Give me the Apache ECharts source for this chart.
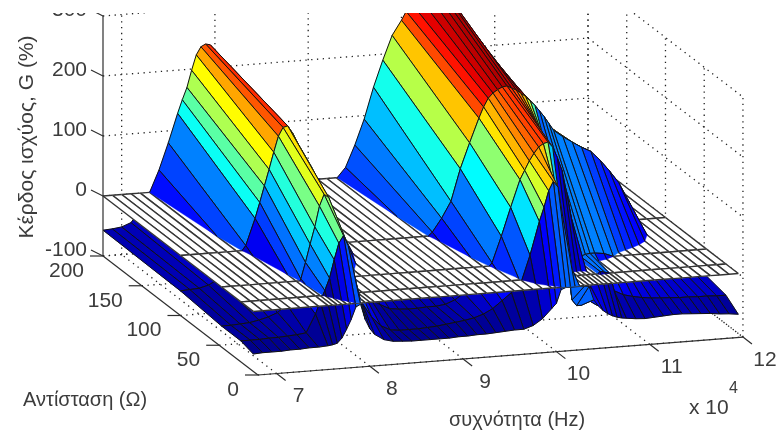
<!DOCTYPE html>
<html>
<head>
<meta charset="utf-8">
<title>Κέρδος ισχύος</title>
<style>
  html, body { margin: 0; padding: 0; background: #fff; }
  #chart { width: 778px; height: 432px; }
</style>
<script src="https://cdn.jsdelivr.net/npm/echarts@6/dist/echarts.min.js"></script>
</head>
<body>
<div id="chart"></div>
<script>
// συχνότητα, x 10^4 Hz
const freq = [
  6.8, 6.9, 7.0, 7.1, 7.2, 7.3, 7.4, 7.5, 7.6,
  7.65, 7.7, 7.75, 7.8, 7.85, 7.9, 7.95, 8.0, 8.05, 8.1,
  8.2, 8.3, 8.4, 8.5, 8.6, 8.7, 8.8, 8.9, 9.0, 9.1, 9.2, 9.3, 9.4, 9.5, 9.6, 9.7, 9.8, 9.9,
  10.0, 10.05, 10.1, 10.15, 10.2, 10.25, 10.3, 10.35, 10.4, 10.45, 10.5, 10.55, 10.6, 10.65, 10.7, 10.75, 10.8,
  10.9, 11.0, 11.1, 11.2, 11.3, 11.4, 11.5, 11.6, 11.7, 11.8, 11.9, 12.0
]
// Αντίσταση, Ω
const resistance = [6, 22, 47, 100, 200]

// Κέρδος (%), one row per resistance
const gain6 = [
  -71, -70, -70, -70, -69, -69, -68, -68, -67,
  -66, -64, -56, -42, -26, -6, -2, -28, -44, -54,
  -64, -68, -69, -70, -70, -70, -70, -70, -69, -69, -68, -68, -67, -66, -65, -65, -60, -50,
  -34, -26, -4, -1, -1, -1, -1, -1, -2, -25, -36, -44, -50, -54, -57, -59, -60,
  -62, -63, -62, -61, -60, -60, -61, -62, -63, -65, -66, -68
]
const gain22 = [
  -65, -65, -65, -64, -64, -63, -62, -60, -30,
  -10, 8, 28, 58, 85, 97, 80, 40, 2, -18,
  -42, -58, -66, -68, -68, -68, -67, -66, -64, -62, -60, -57, -52, -44, -32, -20, -6, 40,
  95, 118, 145, 160, 150, 100, 30, -40, -50, -50, -40, -20, -5, 4, 2, 0, -30,
  -38, -42, -45, -47, -48, -49, -50, -50, -51, -51, -52, -52
]
const gain47 = [
  -65, -65, -64, -63, -60, -56, -50, -38, -14,
  3, 30, 60, 88, 122, 141, 135, 105, 80, 52,
  8, -22, -40, -50, -58, -60, -61, -61, -60, -60, -58, -52, -42, -28, -12, 5, 48, 95,
  140, 155, 170, 182, 192, 197, 199, 190, 172, 150, 112, 70, -3, 4, 7, 8, 8,
  6, 0, -14, -22, -28, -33, -37, -40, -42, -43, -44, -45
]
const gain100 = [
  -59, -58, -57, -53, -45, -30, -12, 8, 52,
  78, 105, 132, 160, 186, 200, 202, 190, 174, 160,
  132, 100, 70, 26, -8, -25, -34, -38, -40, -38, -32, -22, -8, 6, 28, 55, 108, 150,
  190, 208, 222, 230, 235, 239, 240, 236, 232, 226, 220, 212, 204, 194, 184, 172, 160,
  148, 138, 128, 120, 104, 85, 64, 34, 0, -18, -30, -40
]
const gain200 = [
  -57, -56, -54, -48, -28, 0, 36, 80, 128,
  150, 170, 198, 223, 236, 240, 238, 226, 213, 200,
  170, 140, 110, 85, 62, 42, 28, 15, 7, 1, -3, -2, 16, 52, 94, 146, 190, 230,
  254, 268, 282, 298, 312, 320, 322, 320, 312, 295, 275, 255, 238, 220, 205, 190, 176,
  150, 125, 100, 80, 60, 46, 34, 25, 18, 12, 6, -2
]
const gainRows = [gain6, gain22, gain47, gain100, gain200]
const planeLevel = 0

const freqTicks = [7, 8, 9, 10, 11, 12]
const resTicks = [0, 50, 100, 150, 200]
const gainTicks = [-100, 0, 100, 200, 300]

// oblique view: how far one unit of R and of f slide on the screen
const FREQ_PX = 93.3
const GAIN_PX = 0.6
const RES_PX_X = 0.775
const RES_PX_Y = 0.595
const FREQ_TILT = 7.3
const FREQ_MIN = 6.8
const FREQ_MAX = 12
const RES_MAX = 200
const GAIN_MIN = -100
const GAIN_MAX = 300

// 3d point -> value on the (hidden) x and y axes
function project(f, r, g) {
  return [
    f + (RES_MAX - r) * RES_PX_X / FREQ_PX,
    g + (FREQ_TILT * (f - FREQ_MIN) - RES_PX_Y * (RES_MAX - r)) / GAIN_PX
  ]
}

// jet colormap
const COLOR_LOW = -75
const COLOR_HIGH = 255
function jet(g) {
  const t = Math.min(1, Math.max(0, (g - COLOR_LOW) / (COLOR_HIGH - COLOR_LOW)))
  const ch = (c) => Math.round(255 * Math.min(1, Math.max(0, 1.5 - Math.abs(4 * t - c))))
  return 'rgb(' + ch(3) + ',' + ch(2) + ',' + ch(1) + ')'
}

// keep the part of a cell above or below the plane
function clipCell(verts, above) {
  const inside = (v) => above ? v[2] > planeLevel : v[2] <= planeLevel
  const segs = []
  verts.forEach((a, i) => {
    const b = verts[(i + 1) % verts.length]
    const ia = inside(a)
    const ib = inside(b)
    if (ia && ib) {
      segs.push([a, b])
    } else if (ia !== ib) {
      const t = (planeLevel - a[2]) / (b[2] - a[2])
      const c = [a[0] + t * (b[0] - a[0]), a[1] + t * (b[1] - a[1]), planeLevel]
      segs.push(ia ? [a, c] : [c, b])
    }
  })
  return segs
}

// back to front: far resistance first, high frequency first
const cells = []
for (let j = resistance.length - 2; j >= 0; j--) {
  for (let i = freq.length - 2; i >= 0; i--) {
    cells.push([i, j])
  }
}

function cellVerts(i, j, flat) {
  const g = (a, b) => flat ? planeLevel : gainRows[b][a]
  return [
    [freq[i], resistance[j], g(i, j)],
    [freq[i + 1], resistance[j], g(i + 1, j)],
    [freq[i + 1], resistance[j + 1], g(i + 1, j + 1)],
    [freq[i], resistance[j + 1], g(i, j + 1)]
  ]
}

function drawSegs(api, segs, fill, edge, lineWidth) {
  if (!segs.length) return null
  const toPx = (v) => api.coord(project(v[0], v[1], v[2]))
  const points = []
  segs.forEach((s) => { points.push(toPx(s[0]), toPx(s[1])) })
  const children = [{
    type: 'polygon',
    shape: { points: points },
    style: { fill: fill, stroke: fill, lineWidth: 0.4 }
  }]
  segs.forEach((s) => {
    const p = toPx(s[0])
    const q = toPx(s[1])
    children.push({
      type: 'line',
      shape: { x1: p[0], y1: p[1], x2: q[0], y2: q[1] },
      style: { stroke: edge, lineWidth: lineWidth, fill: null }
    })
  })
  return { type: 'group', children: children }
}

function surfaceSeries(above) {
  return {
    type: 'custom',
    coordinateSystem: 'cartesian2d',
    silent: true,
    data: cells,
    encode: { x: 0, y: 1 },
    renderItem(params, api) {
      const i = api.value(0)
      const j = api.value(1)
      const segs = clipCell(cellVerts(i, j, false), above)
      return drawSegs(api, segs, jet(gainRows[j][i]), '#111', 1)
    }
  }
}

const planeSeries = {
  type: 'custom',
  coordinateSystem: 'cartesian2d',
  silent: true,
  data: cells,
  encode: { x: 0, y: 1 },
  renderItem(params, api) {
    const verts = cellVerts(api.value(0), api.value(1), true)
    const segs = verts.map((v, k) => [v, verts[(k + 1) % 4]])
    return drawSegs(api, segs, '#ffffff', '#333', 1.4)
  }
}

// [from, to] pairs for the dotted grid on floor and walls
const gridLines = []
freqTicks.forEach((f) => {
  gridLines.push([[f, 0, GAIN_MIN], [f, RES_MAX, GAIN_MIN]])
  gridLines.push([[f, RES_MAX, GAIN_MIN], [f, RES_MAX, GAIN_MAX]])
})
resTicks.forEach((r) => {
  gridLines.push([[FREQ_MIN, r, GAIN_MIN], [FREQ_MAX, r, GAIN_MIN]])
  gridLines.push([[FREQ_MAX, r, GAIN_MIN], [FREQ_MAX, r, GAIN_MAX]])
})
gainTicks.forEach((g) => {
  gridLines.push([[FREQ_MIN, RES_MAX, g], [FREQ_MAX, RES_MAX, g]])
  gridLines.push([[FREQ_MAX, RES_MAX, g], [FREQ_MAX, 0, g]])
})

const gridSeries = {
  type: 'custom',
  coordinateSystem: 'cartesian2d',
  silent: true,
  data: gridLines.map((l, k) => [k]),
  encode: { x: 0 },
  renderItem(params, api) {
    const l = gridLines[params.dataIndex]
    const p = api.coord(project(l[0][0], l[0][1], l[0][2]))
    const q = api.coord(project(l[1][0], l[1][1], l[1][2]))
    return {
      type: 'line',
      shape: { x1: p[0], y1: p[1], x2: q[0], y2: q[1] },
      style: { stroke: '#222', lineWidth: 1.3, lineDash: [1.3, 4.5], fill: null }
    }
  }
}

const AXIS_COLOR = '#2e2e2e'
const TEXT_COLOR = '#3c3c3c'
const FONT = '21px "Liberation Sans", Arial, sans-serif'
const titleFont = (size) => size + 'px "Liberation Sans", Arial, sans-serif'

function axisLine(p, q) {
  return {
    type: 'line',
    shape: { x1: p[0], y1: p[1], x2: q[0], y2: q[1] },
    style: { stroke: AXIS_COLOR, lineWidth: 1.2, fill: null }
  }
}

function axisLabel(text, x, y, align) {
  return {
    type: 'text',
    style: { text: text, x: x, y: y, fill: TEXT_COLOR, font: FONT, align: align, verticalAlign: 'middle' }
  }
}

// box edges, tick stubs and tick labels
const axesSeries = {
  type: 'custom',
  coordinateSystem: 'cartesian2d',
  silent: true,
  data: [[0]],
  encode: { x: 0 },
  renderItem(params, api) {
    const px = (f, r, g) => api.coord(project(f, r, g))
    const children = [
      axisLine(px(FREQ_MIN, RES_MAX, GAIN_MIN), px(FREQ_MIN, RES_MAX, GAIN_MAX)),
      axisLine(px(FREQ_MIN, RES_MAX, GAIN_MIN), px(FREQ_MIN, 0, GAIN_MIN)),
      axisLine(px(FREQ_MIN, 0, GAIN_MIN), px(FREQ_MAX, 0, GAIN_MIN))
    ]
    gainTicks.forEach((g) => {
      const p = px(FREQ_MIN, RES_MAX, g)
      children.push(axisLine(p, [p[0] - 12, p[1] - 6]))
      children.push(axisLabel(String(g), p[0] - 16, p[1] - 6, 'right'))
    })
    resTicks.forEach((r) => {
      const p = px(FREQ_MIN, r, GAIN_MIN)
      children.push(axisLine(p, [p[0] - 13, p[1]]))
      children.push(axisLabel(String(r), p[0] - 19, p[1] + 15, 'right'))
    })
    freqTicks.forEach((f) => {
      const p = px(f, 0, GAIN_MIN)
      children.push(axisLine(p, [p[0] + 9, p[1] + 7]))
      children.push(axisLabel(String(f), p[0] + 22, p[1] + 23, 'center'))
    })
    return { type: 'group', children: children }
  }
}

const chart = echarts.init(document.getElementById('chart'), null, { renderer: 'canvas' })
chart.setOption({
  animation: false,
  backgroundColor: '#fff',
  grid: { left: 103, top: 16, width: 485, height: 240 },
  xAxis: { type: 'value', min: FREQ_MIN, max: FREQ_MAX, show: false },
  yAxis: { type: 'value', min: GAIN_MIN, max: GAIN_MAX, show: false },
  series: [gridSeries, surfaceSeries(false), planeSeries, surfaceSeries(true), axesSeries],
  graphic: [
    // the reference is cropped just under its top edge
    { type: 'rect', z: 100, shape: { x: 0, y: 0, width: 778, height: 13 }, style: { fill: '#fff' } },
    { type: 'text', z: 101, rotation: Math.PI / 2, x: 27, y: 137,
      style: { text: 'Κέρδος ισχύος, G (%)', fill: TEXT_COLOR, font: titleFont(21), align: 'center', verticalAlign: 'middle' } },
    { type: 'text', z: 101, x: 23, y: 400,
      style: { text: 'Αντίσταση (Ω)', fill: TEXT_COLOR, font: titleFont(20), verticalAlign: 'middle' } },
    { type: 'text', z: 101, x: 449, y: 420,
      style: { text: 'συχνότητα (Hz)', fill: TEXT_COLOR, font: titleFont(20), verticalAlign: 'middle' } },
    { type: 'text', z: 101, x: 689, y: 408,
      style: { text: 'x 10', fill: TEXT_COLOR, font: titleFont(21), verticalAlign: 'middle' } },
    { type: 'text', z: 101, x: 729, y: 389,
      style: { text: '4', fill: TEXT_COLOR, font: titleFont(16), verticalAlign: 'middle' } }
  ]
})
</script>
</body>
</html>
